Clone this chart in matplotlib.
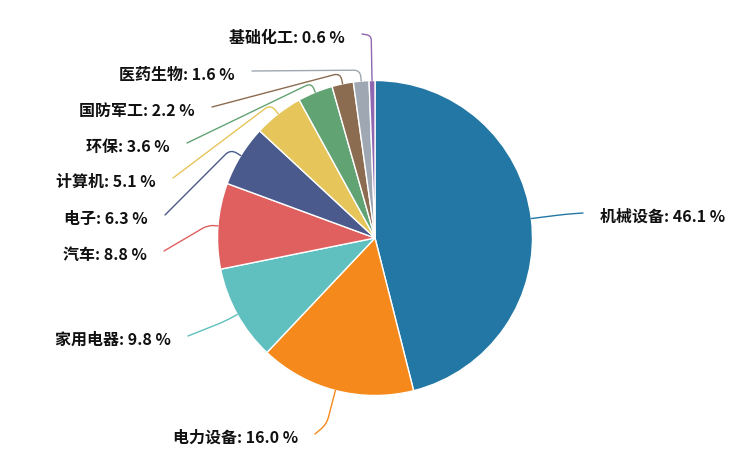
import numpy as np
import matplotlib
matplotlib.use("Agg")
import matplotlib.pyplot as plt
from matplotlib.path import Path
from matplotlib.patches import PathPatch

plt.rcParams['font.family'] = ['Noto Sans CJK SC', 'DejaVu Sans']

# ---- data ----
names = ['机械设备', '电力设备', '家用电器', '汽车', '电子', '计算机', '环保', '国防军工', '医药生物', '基础化工']
values = [46.1, 16.0, 9.8, 8.8, 6.3, 5.1, 3.6, 2.2, 1.6, 0.6]
colors = ['#2377a4', '#f5891b', '#60bfbf', '#e05f5f', '#4a5a8c', '#e6c55a', '#62a374', '#8c6c50', '#9fa8b2', '#8f66b0']

# ---- layout (pixel coordinates, y measured from top) ----
W, H = 747, 459
cx, cy, R = 375, 238, 157.5
elbow_len = [35, 35, 14, 10, 12, 12, 10, 11, 11, 45]
line_end = [(583, 213), (315, 434), (188, 336), (164, 251), (165, 215),
            (173, 178), (187, 143), (212, 107), (252, 71), (362, 34)]
gap = 17
text_dy = 4.0

fig = plt.figure(figsize=(W / 100, H / 100), dpi=100)
ax = fig.add_axes([0, 0, 1, 1])

wedges, _ = ax.pie(values, colors=colors, startangle=90, counterclock=False,
                   radius=R, center=(cx, H - cy),
                   wedgeprops=dict(edgecolor='white', linewidth=1.0))

for i, w in enumerate(wedges):
    mid = np.deg2rad((w.theta1 + w.theta2) / 2)
    d1 = np.array([np.cos(mid), np.sin(mid)])
    p0 = np.array([cx, H - cy]) + R * d1
    pe = p0 + elbow_len[i] * d1
    ex, ey = line_end[i]
    p2 = np.array([ex, H - ey])
    v2 = p2 - pe
    l2 = np.linalg.norm(v2)
    d2 = v2 / l2 if l2 > 0 else d1
    r = min(9, 0.6 * elbow_len[i], 0.5 * l2)
    a = pe - r * d1
    b = pe + r * d2
    path = Path([p0, a, pe, b, p2],
                [Path.MOVETO, Path.LINETO, Path.CURVE3, Path.CURVE3, Path.LINETO])
    ax.add_patch(PathPatch(path, facecolor='none', edgecolor=colors[i], lw=1.0,
                           capstyle='round'))
    label = f'{names[i]}: {values[i]:.1f} %'
    if ex > cx:
        ax.text(ex + gap, H - ey - text_dy, label, ha='left', va='center',
                fontsize=11.5, fontweight='bold', color='#111111')
    else:
        ax.text(ex - gap, H - ey - text_dy, label, ha='right', va='center',
                fontsize=11.5, fontweight='bold', color='#111111')

ax.set_xlim(0, W)
ax.set_ylim(0, H)
ax.set_aspect('equal', adjustable='box')
ax.axis('off')

fig.savefig('out.png', dpi=100, facecolor='white')
